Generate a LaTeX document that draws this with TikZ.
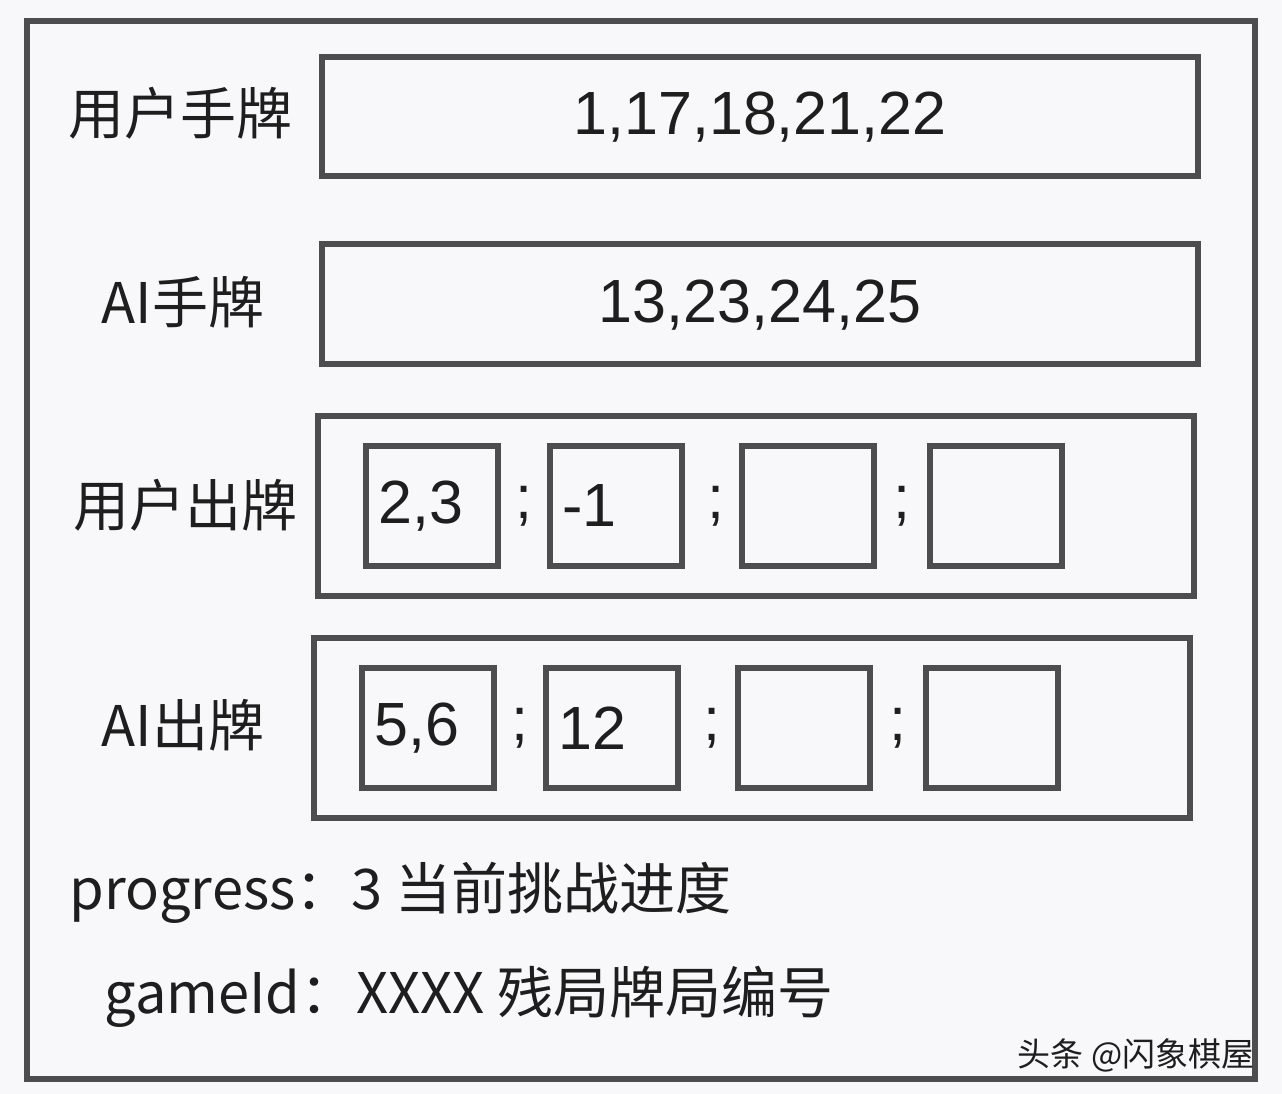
\documentclass[tikz,border=0pt]{standalone}
\usepackage{fontspec}
\setmainfont{Noto Sans CJK SC}
\newfontfamily\numfont{Liberation Sans}
\usepackage{tikz}
\usetikzlibrary{positioning, calc}
\definecolor{framegray}{HTML}{4D4D4F}
\definecolor{inkgray}{HTML}{1E1E1E}
\definecolor{paper}{HTML}{F8F8FA}
\tikzset{
  rowbox/.style={draw=framegray, line width=6.5pt, minimum width=876pt, inner sep=0pt},
  cell/.style={draw=framegray, line width=6.5pt, minimum width=132pt, minimum height=120pt, inner sep=0pt},
  big/.style={text=inkgray, font=\fontsize{56}{60}\selectfont},
  num/.style={text=inkgray, font=\numfont\fontsize{61}{64}\selectfont},
  small/.style={text=inkgray, font=\fontsize{33}{36}\selectfont}
}

\begin{document}
\begin{tikzpicture}[x=1pt, y=-1pt]
        \fill[paper] (0,0) rectangle (1282,1094);
        \useasboundingbox (0,0) rectangle (1282,1094);
        \draw[framegray, line width=6.5pt] (27,21) rectangle (1255,1079);

        % hand rows
        \node[rowbox, minimum height=119pt] (userhand) at (760,116.5) {};
        \node[num] at ([yshift=-1pt]userhand) {1,17,18,21,22};
        \node[big] (userhandlbl) at (180,113) {用户手牌};

        \node[rowbox, minimum height=120pt] (aihand) at (760,304) {};
        \node[num] at ([yshift=-1pt]aihand) {13,23,24,25};
        \node[big] (aihandlbl) at (183,302) {AI手牌};

        % played rows
        \node[rowbox, minimum height=180pt] (userplay) at (756,506) {};
        \node[big] (userplaylbl) at (185,505) {用户出牌};
        \foreach \i/\x in {1/432, 2/616, 3/808, 4/996}
            \node[cell] (uc\i) at (\x,506) {};
        \foreach \i/\t in {1/{2,3}, 2/{-1}}
            \node[num, anchor=west] at ([xshift=12pt]uc\i.west) {\t};
        \node[num] at ($(uc1.east)!0.5!(uc2.west)$) {;};
        \node[num] at ([xshift=4pt]$(uc2.east)!0.5!(uc3.west)$) {;};
        \node[num] at ($(uc3.east)!0.5!(uc4.west)$) {;};

        \node[rowbox, minimum height=180pt] (aiplay) at (752,728) {};
        \node[big] (aiplaylbl) at (183,725) {AI出牌};
        \foreach \i/\x in {1/428, 2/612, 3/804, 4/992}
            \node[cell] (ac\i) at (\x,728) {};
        \foreach \i/\t in {1/{5,6}, 2/{12}}
            \node[num, anchor=west] at ([xshift=12pt]ac\i.west) {\t};
        \node[num] at ($(ac1.east)!0.5!(ac2.west)$) {;};
        \node[num] at ([xshift=4pt]$(ac2.east)!0.5!(ac3.west)$) {;};
        \node[num] at ($(ac3.east)!0.5!(ac4.west)$) {;};

        % notes
        \node[big, anchor=west] (progress) at (66,893) {progress：3 当前挑战进度};
        \node[big, anchor=west] (gameid) at (101,997) {gameId：XXXX 残局牌局编号};
        \node[small, anchor=east] (mark) at (1258,1055) {头条 @闪象棋屋};
    \end{tikzpicture}
\end{document}
